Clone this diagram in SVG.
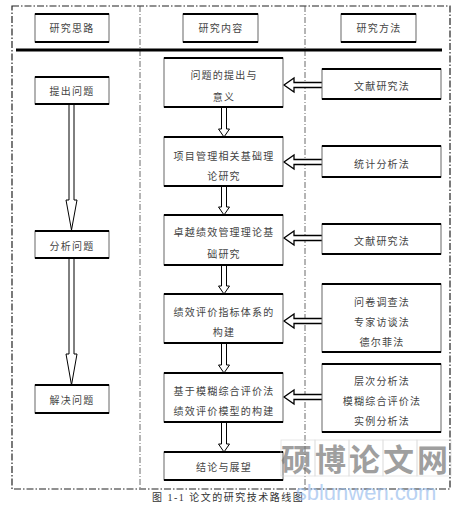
<svg xmlns="http://www.w3.org/2000/svg" width="469" height="511" viewBox="0 0 469 511">
<style>
.bg{fill:#fff}
.side{fill:#fff;stroke:#666;stroke-width:1}
.edge{stroke:#000;stroke-width:2.2}
.t{font-family:"Liberation Serif","Noto Sans CJK SC",serif;font-size:10px;fill:#444;text-anchor:middle;letter-spacing:1.2px}
.frame{fill:none;stroke:#222;stroke-width:1.2;stroke-dasharray:7 2 1.5 2}
.div{fill:none;stroke:#444;stroke-width:0.8;stroke-dasharray:6 2 1 2}
.arr{fill:#fff;stroke:#000;stroke-width:1}
.harr{fill:#fff;stroke:#000;stroke-width:1.3}
.cap{font-family:"Liberation Serif","Noto Sans CJK SC",serif;font-size:10px;fill:#333;letter-spacing:1.5px}
</style>
<rect class="bg" width="469" height="511"/>
<rect class="frame" x="12" y="6" width="438" height="483"/>
<line class="div" x1="140" y1="6" x2="140" y2="489"/>
<line class="div" x1="305" y1="6" x2="305" y2="489"/>
<line x1="16" y1="50" x2="442" y2="50" stroke="#000" stroke-width="3"/>

<g id="connectors">
<path class="arr" d="M69,104 V200 H66 L71.5,230 L77,200 H74 V104"/>
<path class="arr" d="M69,258 V354 H66 L71.5,385 L77,354 H74 V258"/>
<path class="arr" d="M221.5,107 V129 H218.5 L224,137 L229.5,129 H226.5 V107"/>
<path class="arr" d="M221.5,186 V207 H218.5 L224,215 L229.5,207 H226.5 V186"/>
<path class="arr" d="M221.5,265 V286 H218.5 L224,294 L229.5,286 H226.5 V265"/>
<path class="arr" d="M221.5,343 V365 H218.5 L224,373 L229.5,365 H226.5 V343"/>
<path class="arr" d="M221.5,422 V444 H218.5 L224,452 L229.5,444 H226.5 V422"/>
<path class="harr" d="M322,82.5 H294 V78 L284,85 L294,92 V87.5 H322"/>
<path class="harr" d="M322,159.5 H294 V155 L284,162 L294,169 V164.5 H322"/>
<path class="harr" d="M322,235.5 H294 V231 L284,238 L294,245 V240.5 H322"/>
<path class="harr" d="M322,318.5 H294 V314 L284,321 L294,328 V323.5 H322"/>
<path class="harr" d="M322,394.5 H294 V390 L284,397 L294,404 V399.5 H322"/>
</g>

<g id="h1"><rect class="side" x="35" y="14" width="74" height="28"/><line class="edge" x1="35" y1="14" x2="109" y2="14"/><line class="edge" x1="35" y1="42" x2="109" y2="42"/><text class="t" x="72" y="32">研究思路</text></g>
<g id="h2"><rect class="side" x="183" y="14" width="75" height="28"/><line class="edge" x1="183" y1="14" x2="258" y2="14"/><line class="edge" x1="183" y1="42" x2="258" y2="42"/><text class="t" x="221" y="32">研究内容</text></g>
<g id="h3"><rect class="side" x="341" y="14" width="75" height="28"/><line class="edge" x1="341" y1="14" x2="416" y2="14"/><line class="edge" x1="341" y1="42" x2="416" y2="42"/><text class="t" x="379" y="32">研究方法</text></g>

<g id="l1"><rect class="side" x="35" y="77" width="74" height="27"/><line class="edge" x1="35" y1="77" x2="109" y2="77"/><line class="edge" x1="35" y1="104" x2="109" y2="104"/><text class="t" x="72" y="95">提出问题</text></g>
<g id="l2"><rect class="side" x="35" y="231" width="74" height="27"/><line class="edge" x1="35" y1="231" x2="109" y2="231"/><line class="edge" x1="35" y1="258" x2="109" y2="258"/><text class="t" x="72" y="250">分析问题</text></g>
<g id="l3"><rect class="side" x="35" y="385" width="74" height="28"/><line class="edge" x1="35" y1="385" x2="109" y2="385"/><line class="edge" x1="35" y1="413" x2="109" y2="413"/><text class="t" x="72" y="404">解决问题</text></g>

<g id="m1"><rect class="side" x="164" y="58" width="119" height="49"/><line class="edge" x1="164" y1="58" x2="283" y2="58"/><line class="edge" x1="164" y1="107" x2="283" y2="107"/><text class="t" x="224" y="79">问题的提出与</text><text class="t" x="224" y="101">意义</text></g>
<g id="m2"><rect class="side" x="164" y="137" width="119" height="49"/><line class="edge" x1="164" y1="137" x2="283" y2="137"/><line class="edge" x1="164" y1="186" x2="283" y2="186"/><text class="t" x="224" y="160">项目管理相关基础理</text><text class="t" x="224" y="180">论研究</text></g>
<g id="m3"><rect class="side" x="164" y="215" width="119" height="50"/><line class="edge" x1="164" y1="215" x2="283" y2="215"/><line class="edge" x1="164" y1="265" x2="283" y2="265"/><text class="t" x="224" y="236">卓越绩效管理理论基</text><text class="t" x="224" y="258">础研究</text></g>
<g id="m4"><rect class="side" x="164" y="294" width="119" height="49"/><line class="edge" x1="164" y1="294" x2="283" y2="294"/><line class="edge" x1="164" y1="343" x2="283" y2="343"/><text class="t" x="224" y="316">绩效评价指标体系的</text><text class="t" x="224" y="336">构建</text></g>
<g id="m5"><rect class="side" x="164" y="373" width="119" height="49"/><line class="edge" x1="164" y1="373" x2="283" y2="373"/><line class="edge" x1="164" y1="422" x2="283" y2="422"/><text class="t" x="224" y="395">基于模糊综合评价法</text><text class="t" x="224" y="415">绩效评价模型的构建</text></g>
<g id="m6"><rect class="side" x="164" y="452" width="119" height="28"/><line class="edge" x1="164" y1="452" x2="283" y2="452"/><line class="edge" x1="164" y1="480" x2="283" y2="480"/><text class="t" x="224" y="471">结论与展望</text></g>

<g id="r1"><rect class="side" x="322" y="69" width="119" height="30"/><line class="edge" x1="322" y1="69" x2="441" y2="69"/><line class="edge" x1="322" y1="99" x2="441" y2="99"/><text class="t" x="382" y="90">文献研究法</text></g>
<g id="r2"><rect class="side" x="322" y="146" width="119" height="31"/><line class="edge" x1="322" y1="146" x2="441" y2="146"/><line class="edge" x1="322" y1="177" x2="441" y2="177"/><text class="t" x="382" y="168">统计分析法</text></g>
<g id="r3"><rect class="side" x="322" y="224" width="119" height="30"/><line class="edge" x1="322" y1="224" x2="441" y2="224"/><line class="edge" x1="322" y1="254" x2="441" y2="254"/><text class="t" x="382" y="245">文献研究法</text></g>
<g id="r4"><rect class="side" x="322" y="284" width="119" height="68"/><line class="edge" x1="322" y1="284" x2="441" y2="284"/><line class="edge" x1="322" y1="352" x2="441" y2="352"/><text class="t" x="382" y="306">问卷调查法</text><text class="t" x="382" y="326">专家访谈法</text><text class="t" x="382" y="346">德尔菲法</text></g>
<g id="r5"><rect class="side" x="322" y="364" width="119" height="68"/><line class="edge" x1="322" y1="364" x2="441" y2="364"/><line class="edge" x1="322" y1="432" x2="441" y2="432"/><text class="t" x="382" y="385">层次分析法</text><text class="t" x="382" y="405">模糊综合评价法</text><text class="t" x="382" y="425">实例分析法</text></g>

<text class="cap" x="152" y="501">图 1-1 论文的研究技术路线图</text>

<g id="watermark" opacity="0.7">
<g fill="none" stroke="#d4d4d4" stroke-width="0.8">
<rect x="281" y="440" width="34" height="36"/><rect x="315" y="440" width="34" height="36"/><rect x="349" y="440" width="34" height="36"/><rect x="383" y="440" width="34" height="36"/><rect x="417" y="440" width="34" height="36"/>
</g>
<text x="366" y="471" font-family="'Noto Sans CJK SC',sans-serif" font-size="31" font-weight="bold" fill="#777" text-anchor="middle" letter-spacing="3">硕博论文网</text>
<text x="366" y="500" font-family="'Liberation Sans',sans-serif" font-size="22" fill="#9cc0ee" text-anchor="middle">sblunwen.com</text>
</g>
</svg>
